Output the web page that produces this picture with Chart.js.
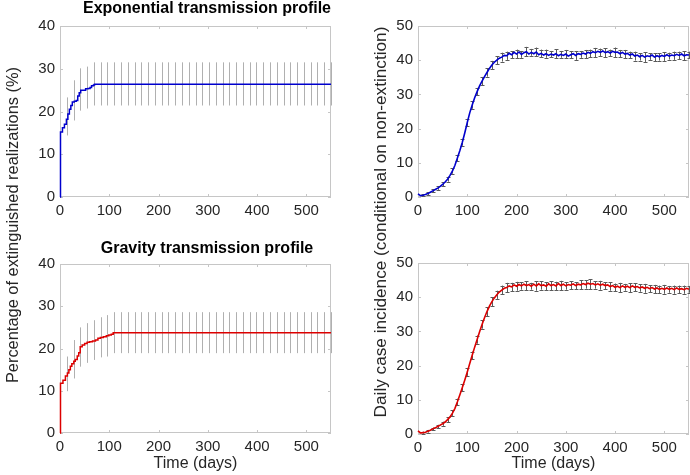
<!DOCTYPE html>
<html>
<head>
<meta charset="utf-8">
<script src="https://cdn.jsdelivr.net/npm/chart.js@4.4.1/dist/chart.umd.min.js"></script>
<style>
  html, body { margin: 0; padding: 0; background: #fff; }
  #wrap { position: relative; width: 690px; height: 475px; overflow: hidden;
          font-family: "Liberation Sans", Arial, sans-serif; color: #262626; }
  canvas { position: absolute; }
  .title { position: absolute; width: 300px; font-size: 16px; font-weight: bold;
           text-align: center; white-space: nowrap; color: #000; }
  .ylab { position: absolute; width: 440px; height: 20px; line-height: 20px;
          text-align: center; white-space: nowrap; transform: rotate(-90deg); }
</style>
</head>
<body>
<div id="wrap">
  <canvas id="expExt" width="345" height="215" style="left:0;top:0"></canvas>
  <canvas id="expInc" width="345" height="215" style="left:345px;top:0"></canvas>
  <canvas id="gravExt" width="345" height="235" style="left:0;top:240px"></canvas>
  <canvas id="gravInc" width="345" height="235" style="left:345px;top:240px"></canvas>
  <div class="title" style="left:57px;top:-1px">Exponential transmission profile</div>
  <div class="title" style="left:57px;top:239px">Gravity transmission profile</div>
  <div class="ylab" style="left:-208px;top:215px;font-size:16.4px">Percentage of extinguished realizations (%)</div>
  <div class="ylab" style="left:160px;top:212px;font-size:17.2px">Daily case incidence (conditional on non-extinction)</div>
</div>
<script>
// Extinction curves (step functions): time of change, cumulative % extinguished
const expExtDays = [0, 1, 5, 9, 13, 16, 19, 22, 25, 29, 33, 36, 39, 42, 47, 52, 57, 61, 64, 68, 70, 550];
const expExtPct  = [0, 15.2, 16.2, 17.0, 18.2, 19.4, 20.5, 21.4, 22.2, 22.4, 22.6, 23.6, 24.4, 25.0, 25.0, 25.3, 25.4, 25.6, 26.0, 26.2, 26.4, 26.4];
const gravExtDays = [0, 1, 6, 11, 15, 18, 21, 24, 28, 31, 35, 38, 41, 45, 50, 55, 60, 66, 72, 77, 82, 88, 94, 99, 104, 108, 550];
const gravExtPct  = [0, 11.8, 12.5, 13.5, 14.2, 15.0, 15.8, 16.4, 17.0, 17.4, 18.2, 19.0, 20.4, 20.8, 21.2, 21.5, 21.6, 21.8, 22.0, 22.4, 22.6, 22.8, 23.0, 23.2, 23.4, 23.7, 23.7];

// Extinction error bars (low / high)
const extErrDays = [13.75, 27.5, 41.25, 55, 68.75, 82.5, 96.25, 110, 123.75, 137.5, 151.25, 165, 178.75, 192.5, 206.25, 220, 233.75, 247.5, 261.25, 275,
                    288.75, 302.5, 316.25, 330, 343.75, 357.5, 371.25, 385, 398.75, 412.5, 426.25, 440, 453.75, 467.5, 481.25, 495, 508.75, 522.5, 536.25, 550];
const expErrLo  = [14.4, 17.9, 20.2, 20.7, 21.4, 21.4, 21.4, 21.4, 21.4, 21.4, 21.4, 21.4, 21.4, 21.4, 21.4, 21.4, 21.4, 21.4, 21.4, 21.4,
                   21.4, 21.4, 21.4, 21.4, 21.4, 21.4, 21.4, 21.4, 21.4, 21.4, 21.4, 21.4, 21.4, 21.4, 21.4, 21.4, 21.4, 21.4, 21.4, 21.4];
const expErrHi  = [23.3, 27.3, 30.1, 30.5, 31.5, 31.5, 31.5, 31.5, 31.5, 31.5, 31.5, 31.5, 31.5, 31.5, 31.5, 31.5, 31.5, 31.5, 31.5, 31.5,
                   31.5, 31.5, 31.5, 31.5, 31.5, 31.5, 31.5, 31.5, 31.5, 31.5, 31.5, 31.5, 31.5, 31.5, 31.5, 31.5, 31.5, 31.5, 31.5, 31.5];
const gravErrLo = [9.9, 12.9, 15.7, 16.6, 17.3, 17.9, 18.1, 18.9, 18.9, 18.9, 18.9, 18.9, 18.9, 18.9, 18.9, 18.9, 18.9, 18.9, 18.9, 18.9,
                   18.9, 18.9, 18.9, 18.9, 18.9, 18.9, 18.9, 18.9, 18.9, 18.9, 18.9, 18.9, 18.9, 18.9, 18.9, 18.9, 18.9, 18.9, 18.9, 18.9];
const gravErrHi = [18.1, 22.0, 25.0, 26.0, 26.7, 27.4, 27.9, 28.6, 28.6, 28.6, 28.6, 28.6, 28.6, 28.6, 28.6, 28.6, 28.6, 28.6, 28.6, 28.6,
                   28.6, 28.6, 28.6, 28.6, 28.6, 28.6, 28.6, 28.6, 28.6, 28.6, 28.6, 28.6, 28.6, 28.6, 28.6, 28.6, 28.6, 28.6, 28.6, 28.6];

// Daily incidence, read every 5 days
const incDays = [0, 5, 10, 15, 20, 25, 30, 35, 40, 45, 50, 55, 60, 65, 70, 75, 80, 85, 90, 95, 100, 105, 110, 115, 120, 125, 130, 135, 140, 145,
                 150, 155, 160, 165, 170, 175, 180, 185, 190, 195, 200, 205, 210, 215, 220, 225, 230, 235, 240, 245, 250, 255, 260, 265, 270, 275,
                 280, 285, 290, 295, 300, 305, 310, 315, 320, 325, 330, 335, 340, 345, 350, 355, 360, 365, 370, 375, 380, 385, 390, 395, 400, 405,
                 410, 415, 420, 425, 430, 435, 440, 445, 450, 455, 460, 465, 470, 475, 480, 485, 490, 495, 500, 505, 510, 515, 520, 525, 530, 535,
                 540, 545, 550];
const expInc = [0.9, 0.4, 0.5, 0.7, 1.0, 1.4, 1.8, 2.2, 2.6, 3.1, 3.7, 4.4, 5.2, 6.3, 7.6, 9.3, 11.4, 13.6, 16.0, 18.8, 21.8, 24.6, 26.9, 29.0, 30.8, 32.5, 33.9, 35.2, 36.4, 37.6,
                38.6, 39.4, 40.0, 40.6, 40.9, 41.4, 41.3, 42.0, 41.6, 42.3, 41.8, 42.4, 41.7, 42.2, 42.5, 41.8, 42.3, 41.9, 42.4, 41.6, 42.0, 41.5, 41.9, 41.4, 41.8, 41.5,
                41.9, 41.3, 41.7, 41.4, 41.8, 41.2, 41.6, 41.9, 41.4, 41.9, 41.7, 42.1, 41.8, 42.3, 42.0, 42.5, 42.2, 42.6, 42.3, 42.7, 42.2, 42.5, 42.1, 42.6, 42.3, 42.4,
                41.9, 42.3, 41.8, 42.0, 41.5, 41.8, 41.2, 41.5, 41.0, 41.4, 40.9, 41.3, 41.1, 41.5, 40.9, 41.3, 41.0, 41.4, 41.1, 41.6, 41.2, 41.5, 41.3, 41.7, 41.4, 41.8,
                41.3, 41.6, 41.5];
const gravInc = [0.9, 0.3, 0.4, 0.5, 0.8, 1.1, 1.5, 1.8, 2.2, 2.6, 3.0, 3.5, 4.2, 5.0, 6.1, 7.5, 9.4, 11.5, 13.6, 15.8, 18.1, 20.6, 23.0, 25.4, 27.6, 29.9, 32.0, 34.0, 35.8, 37.4,
                 38.7, 39.8, 40.7, 41.5, 42.1, 42.6, 42.8, 43.3, 43.0, 43.6, 43.2, 43.7, 43.3, 43.8, 43.4, 43.7, 43.2, 43.8, 43.3, 43.9, 43.4, 43.6, 43.2, 43.9, 43.4, 43.7,
                 43.3, 44.0, 43.4, 43.8, 43.3, 43.7, 43.5, 43.9, 43.4, 43.8, 43.6, 44.0, 43.7, 44.1, 43.8, 44.0, 43.6, 43.9, 43.5, 43.8, 43.4, 43.6, 43.1, 43.4, 42.9, 43.2,
                 42.8, 43.3, 42.9, 43.2, 42.8, 43.3, 42.9, 43.1, 42.7, 43.0, 42.6, 42.9, 42.5, 42.8, 42.4, 42.7, 42.3, 42.6, 42.3, 42.7, 42.3, 42.6, 42.2, 42.7, 42.3, 42.5,
                 42.2, 42.6, 42.3];

// Incidence error bars: day and half-width (centred on the curve)
const incErrDays = [10, 20, 30, 40, 50, 60, 70, 80, 90, 100, 110, 120, 130, 140, 150, 160, 170, 180, 190, 200, 210, 220, 230, 240, 250, 260, 270, 280,
                    290, 300, 310, 320, 330, 340, 350, 360, 370, 380, 390, 400, 410, 420, 430, 440, 450, 460, 470, 480, 490, 500, 510, 520, 530, 540, 550];
const expIncErr  = [0.3, 0.4, 0.4, 0.5, 0.6, 0.7, 0.8, 0.9, 1.0, 1.0, 1.1, 1.1, 1.2, 1.2, 1.2, 1.2, 1.3, 1.2, 1.0, 1.3, 1.0, 1.4, 1.0, 1.3, 1.1, 1.2, 0.9, 1.3,
                    1.0, 1.2, 1.1, 1.3, 1.0, 1.2, 1.1, 1.4, 1.1, 1.3, 1.0, 1.4, 1.1, 1.2, 1.0, 1.3, 1.1, 1.4, 1.0, 1.2, 1.1, 1.3, 1.0, 1.2, 1.1, 1.3, 1.0];
const gravIncErr = [0.3, 0.4, 0.4, 0.5, 0.6, 0.7, 0.8, 0.9, 1.0, 1.1, 1.1, 1.2, 1.2, 1.3, 1.3, 1.2, 1.3, 1.4, 1.2, 1.3, 1.1, 1.3, 1.0, 1.4, 1.2, 1.1, 1.3, 1.2,
                    1.4, 1.1, 1.2, 1.0, 1.3, 1.2, 1.5, 1.1, 1.3, 1.0, 1.2, 1.1, 1.4, 1.0, 1.3, 1.2, 1.1, 1.3, 1.0, 1.2, 1.1, 1.3, 1.0, 1.2, 1.1, 1.2, 1.0];

const xTicks = [0, 100, 200, 300, 400, 500];
const blueLine = "#0000cd";
const redLine = "#dc0000";
const boxColor = "#c6c6c6";
const textColor = "#262626";
const fontFamily = '"Liberation Sans", Arial, sans-serif';

Chart.defaults.font.family = fontFamily;
Chart.defaults.color = textColor;

const toPoints = (xs, ys) => xs.map((x, i) => ({ x: x, y: ys[i] }));

// MATLAB-ish box with inward ticks, drawn under the data
const boxPlugin = {
	id: "mBox",
	beforeDatasetsDraw(chart) {
		const { ctx, chartArea: a, scales } = chart;
		ctx.save();
		ctx.strokeStyle = boxColor;
		ctx.lineWidth = 1;
		ctx.strokeRect(a.left + 0.5, a.top + 0.5, a.right - a.left - 1, a.bottom - a.top - 1);
		ctx.beginPath();
		scales.x.ticks.forEach(t => {
			const px = Math.round(scales.x.getPixelForValue(t.value)) + 0.5;
			ctx.moveTo(px, a.bottom); ctx.lineTo(px, a.bottom - 3);
			ctx.moveTo(px, a.top); ctx.lineTo(px, a.top + 3);
		});
		scales.y.ticks.forEach(t => {
			const py = Math.round(scales.y.getPixelForValue(t.value)) + 0.5;
			ctx.moveTo(a.left, py); ctx.lineTo(a.left + 3, py);
			ctx.moveTo(a.right, py); ctx.lineTo(a.right - 3, py);
		});
		ctx.stroke();
		ctx.restore();
	}
};

// vertical error bars, drawn under the curve
const errBarPlugin = (days, lo, hi, color, cap) => ({
	id: "errBars",
	beforeDatasetsDraw(chart) {
		const { ctx, scales } = chart;
		ctx.save();
		ctx.strokeStyle = color;
		ctx.lineWidth = 1;
		ctx.beginPath();
		days.forEach((d, i) => {
			const px = Math.round(scales.x.getPixelForValue(d)) + 0.5;
			const y1 = scales.y.getPixelForValue(lo[i]);
			const y2 = scales.y.getPixelForValue(hi[i]);
			ctx.moveTo(px, y1); ctx.lineTo(px, y2);
			if (cap > 0) {
				ctx.moveTo(px - cap, Math.round(y1) + 0.5); ctx.lineTo(px + cap, Math.round(y1) + 0.5);
				ctx.moveTo(px - cap, Math.round(y2) + 0.5); ctx.lineTo(px + cap, Math.round(y2) + 0.5);
			}
		});
		ctx.stroke();
		ctx.restore();
	}
});

const makeScales = (yMax, yWidth, xHeight, showTitle) => ({
	x: {
		type: "linear", min: 0, max: 550,
		grid: { display: false, drawTicks: false },
		border: { display: false },
		afterBuildTicks: s => { s.ticks = xTicks.map(v => ({ value: v })); },
		ticks: { padding: 5, maxRotation: 0, font: { size: 15 }, color: textColor },
		title: { display: showTitle, text: "Time (days)", font: { size: 16 }, color: textColor, padding: { top: 0, bottom: 2 } },
		afterFit: s => { s.height = xHeight; }
	},
	y: {
		min: 0, max: yMax,
		grid: { display: false, drawTicks: false },
		border: { display: false },
		ticks: { stepSize: 10, padding: 5, font: { size: 15 }, color: textColor },
		afterFit: s => { s.width = yWidth; }
	}
});

const drawPanel = (id, datasets, scales, padding, plugins) => {
	new Chart(document.getElementById(id), {
		type: "line",
		data: { datasets: datasets },
		options: {
			responsive: false,
			animation: false,
			layout: { padding: padding },
			plugins: { legend: { display: false }, tooltip: { enabled: false } },
			scales: scales
		},
		plugins: plugins
	});
};

const extSet = (xs, ys, color) => [{
	data: toPoints(xs, ys), borderColor: color, borderWidth: 1.5,
	pointRadius: 0, stepped: true, fill: false, clip: 2
}];
const incSet = (xs, ys, color) => [{
	data: toPoints(xs, ys), borderColor: color, borderWidth: 1.6,
	pointRadius: 0, tension: 0, fill: false, clip: 2
}];

const incCentre = (vals) => incErrDays.map(d => vals[incDays.indexOf(d)]);
const shift = (base, half, sign) => base.map((v, i) => v + sign * half[i]);

const expC = incCentre(expInc);
const gravC = incCentre(gravInc);

drawPanel("expExt", extSet(expExtDays, expExtPct, blueLine), makeScales(40, 60, 18, false),
	{ top: 26, right: 14, left: 0, bottom: 0 },
	[boxPlugin, errBarPlugin(extErrDays, expErrLo, expErrHi, "#b0b0b0", 0)]);
drawPanel("expInc", incSet(incDays, expInc, blueLine), makeScales(50, 73, 18, false),
	{ top: 26, right: 1, left: 0, bottom: 0 },
	[boxPlugin, errBarPlugin(incErrDays, shift(expC, expIncErr, -1), shift(expC, expIncErr, 1), "#5a5a5a", 2)]);
drawPanel("gravExt", extSet(gravExtDays, gravExtPct, redLine), makeScales(40, 60, 42, true),
	{ top: 24, right: 14, left: 0, bottom: 0 },
	[boxPlugin, errBarPlugin(extErrDays, gravErrLo, gravErrHi, "#b0b0b0", 0)]);
drawPanel("gravInc", incSet(incDays, gravInc, redLine), makeScales(50, 73, 41, true),
	{ top: 23, right: 1, left: 0, bottom: 0 },
	[boxPlugin, errBarPlugin(incErrDays, shift(gravC, gravIncErr, -1), shift(gravC, gravIncErr, 1), "#5a5a5a", 2)]);
</script>
</body>
</html>
